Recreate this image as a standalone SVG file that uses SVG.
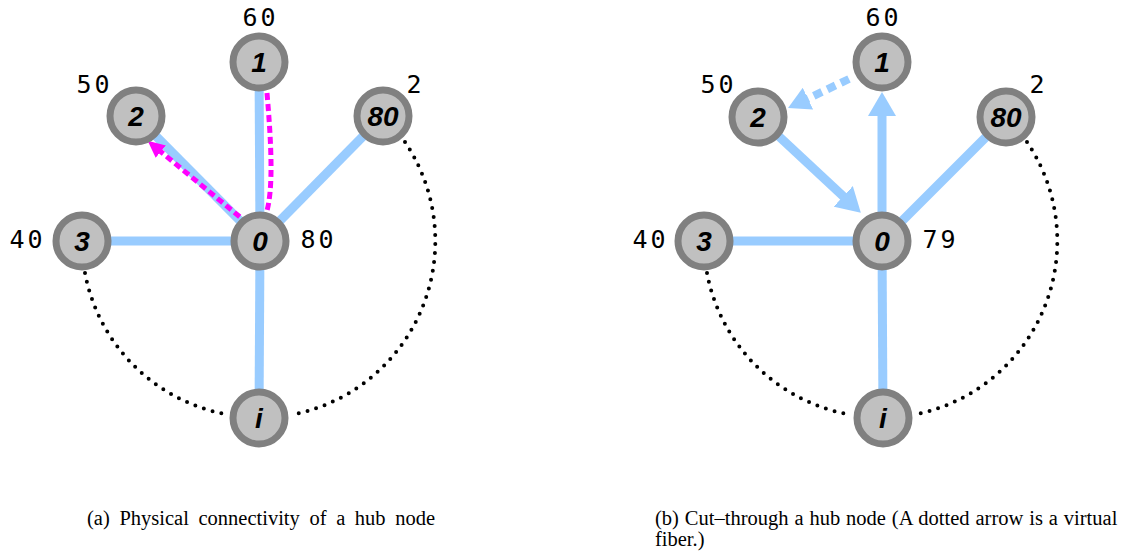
<svg xmlns="http://www.w3.org/2000/svg" width="1121" height="552" viewBox="0 0 1121 552">
<style>
.node circle{fill:#c0c0c0;stroke:#808080;stroke-width:7}
.node text{font-family:"Liberation Sans",Arial,sans-serif;font-weight:bold;font-style:italic;font-size:28px;text-anchor:middle;fill:#000}
.num{font-family:"DejaVu Sans Mono","Liberation Mono",monospace;font-size:25px;letter-spacing:3px;text-anchor:middle;fill:#000}
.edge{stroke:#99ccff;stroke-width:9;fill:none}
.vdash{stroke:#99ccff;stroke-width:8;fill:none;stroke-dasharray:9 6}
.mag{stroke:#ff00ff;stroke-width:5;fill:none;stroke-dasharray:7 4}
.ring{stroke:#000;stroke-width:4;fill:none;stroke-dasharray:0 9;stroke-linecap:round}
.cap{font-family:"Liberation Serif","Times New Roman",serif;font-size:20.5px;fill:#000}
</style>
<defs>
<marker id="blueHead" markerUnits="userSpaceOnUse" markerWidth="24" markerHeight="28" viewBox="0 0 24 28" refX="1" refY="14" orient="auto">
<path d="M0,0 L24,14 L0,28 Z" fill="#99ccff"/>
</marker>
<marker id="blueHeadS" markerUnits="userSpaceOnUse" markerWidth="22" markerHeight="24" viewBox="0 0 22 24" refX="1" refY="12" orient="auto">
<path d="M0,0 L22,12 L0,24 Z" fill="#99ccff"/>
</marker>
<marker id="magHead" markerUnits="userSpaceOnUse" markerWidth="17" markerHeight="16" viewBox="0 0 17 16" refX="1" refY="8" orient="auto">
<path d="M0,0 L17,8 L0,16 Z" fill="#ff00ff"/>
</marker>
</defs>

<g id="connectors">
<!-- left diagram -->
<line class="edge" x1="260" y1="241" x2="259" y2="62"/>
<line class="edge" x1="260" y1="241" x2="136" y2="116"/>
<line class="edge" x1="260" y1="241" x2="383" y2="116"/>
<line class="edge" x1="260" y1="241" x2="82" y2="241"/>
<line class="edge" x1="260" y1="241" x2="259" y2="418"/>
<path class="ring" d="M85,273 A177,177 0 0 0 230,415"/>
<path class="ring" d="M405,142 A177,177 0 0 1 291,415"/>
<path class="mag" d="M267,93 C271,140 274,190 266,214 C262,225 252,227 240,217 L160,151" marker-end="url(#magHead)"/>
<!-- right diagram -->
<line class="edge" x1="882" y1="241" x2="704" y2="241"/>
<line class="edge" x1="882" y1="241" x2="1006" y2="117"/>
<line class="edge" x1="882" y1="241" x2="883" y2="418"/>
<line class="edge" x1="758" y1="117" x2="844" y2="197" marker-end="url(#blueHead)"/>
<line class="edge" x1="882" y1="241" x2="882" y2="115" marker-end="url(#blueHead)"/>
<line class="vdash" x1="849" y1="79" x2="807" y2="99" marker-end="url(#blueHeadS)"/>
<path class="ring" d="M707,273 A177,177 0 0 0 852,415"/>
<path class="ring" d="M1027,142 A177,177 0 0 1 913,415"/>
</g>

<g id="left-n0" class="node"><circle cx="260" cy="241" r="26"/><text x="260" y="251">0</text></g>
<g id="left-n1" class="node"><circle cx="259" cy="62" r="26"/><text x="259" y="72">1</text></g>
<g id="left-n2" class="node"><circle cx="136" cy="116" r="26"/><text x="136" y="126">2</text></g>
<g id="left-n80" class="node"><circle cx="383" cy="116" r="26"/><text x="383" y="126">80</text></g>
<g id="left-n3" class="node"><circle cx="82" cy="241" r="26"/><text x="82" y="251">3</text></g>
<g id="left-ni" class="node"><circle cx="259" cy="418" r="26"/><text x="259" y="428">i</text></g>

<g id="right-n0" class="node"><circle cx="882" cy="241" r="26"/><text x="882" y="251">0</text></g>
<g id="right-n1" class="node"><circle cx="882" cy="62" r="26"/><text x="882" y="72">1</text></g>
<g id="right-n2" class="node"><circle cx="758" cy="117" r="26"/><text x="758" y="127">2</text></g>
<g id="right-n80" class="node"><circle cx="1006" cy="117" r="26"/><text x="1006" y="127">80</text></g>
<g id="right-n3" class="node"><circle cx="704" cy="241" r="26"/><text x="704" y="251">3</text></g>
<g id="right-ni" class="node"><circle cx="883" cy="418" r="26"/><text x="883" y="428">i</text></g>

<g id="labels">
<text class="num" x="260.5" y="26">60</text>
<text class="num" x="94.5" y="93">50</text>
<text class="num" x="415.5" y="93">2</text>
<text class="num" x="27.5" y="248">40</text>
<text class="num" x="318.5" y="248">80</text>
<text class="num" x="883.5" y="26">60</text>
<text class="num" x="718.5" y="93">50</text>
<text class="num" x="1038.5" y="93">2</text>
<text class="num" x="650.5" y="248">40</text>
<text class="num" x="940.5" y="248">79</text>
</g>

<g id="captions">
<text class="cap" x="87" y="525" word-spacing="4.5">(a) Physical connectivity of a hub node</text>
<text class="cap" x="655" y="525" word-spacing="0.8">(b) Cut–through a hub node (A dotted arrow is a virtual</text>
<text class="cap" x="655" y="546">fiber.)</text>
</g>
</svg>
